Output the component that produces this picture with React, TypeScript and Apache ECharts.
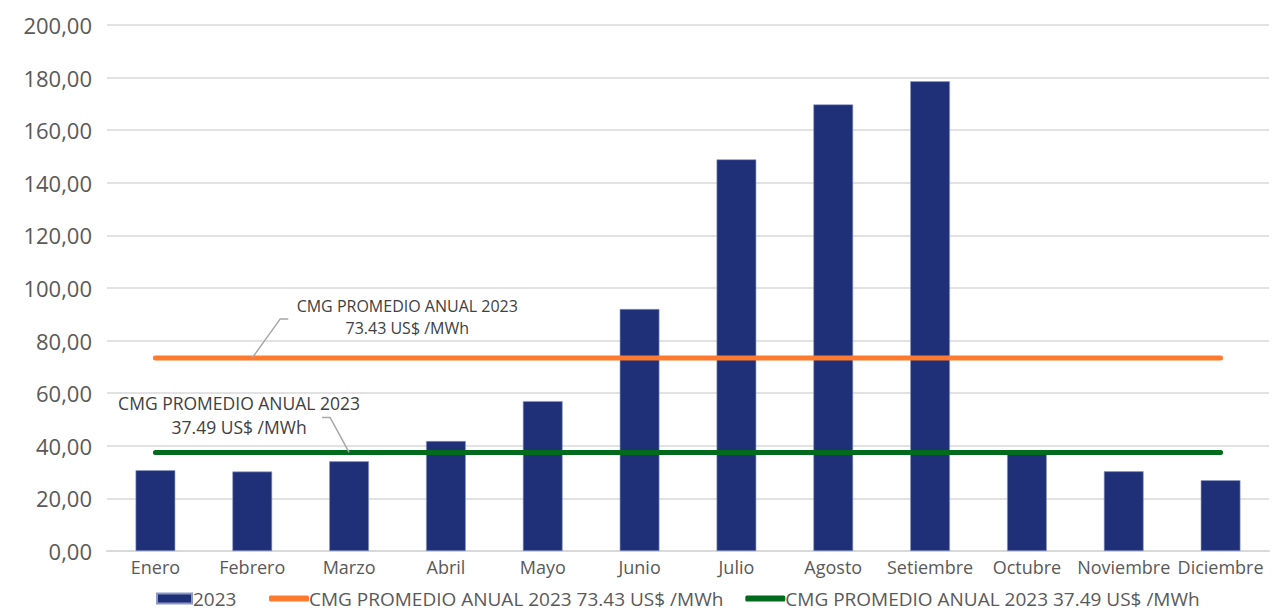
import React, { useEffect, useRef } from "react";
import * as echarts from "echarts";

const categories = ["Enero", "Febrero", "Marzo", "Abril", "Mayo", "Junio", "Julio", "Agosto", "Setiembre", "Octubre", "Noviembre", "Diciembre"];
const values2023 = [30.7, 30.2, 34.1, 41.8, 57.0, 92.0, 148.9, 169.8, 178.6, 37.8, 30.3, 26.9];
const avgHigh = 73.43;
const avgLow = 37.49;
const nameBar = "2023";
const nameHigh = "CMG PROMEDIO ANUAL 2023 73.43 US$ /MWh";
const nameLow = "CMG PROMEDIO ANUAL 2023 37.49 US$ /MWh";
const annotHigh = "CMG PROMEDIO ANUAL 2023\n73.43 US$ /MWh";
const annotLow = "CMG PROMEDIO ANUAL 2023\n37.49 US$ /MWh";

const FONT = "'Open Sans', 'Noto Sans', sans-serif";
const TXT = "#595959";
const NAVY = "#1F3079";
const ORANGE = "#FF7A2C";
const GREEN = "#006B1D";

export default function App() {
  const ref = useRef<HTMLDivElement>(null);
  useEffect(() => {
    if (!ref.current) return;
    const chart = echarts.init(ref.current, null, { renderer: "svg" });
    chart.setOption({
      animation: false,
      backgroundColor: "#ffffff",
      textStyle: { fontFamily: FONT },
      grid: { left: 107, right: 9, top: 25, bottom: 61, containLabel: false },
      legend: [
        {
          data: [{ name: nameBar, icon: "rect" }],
          left: 151,
          top: 584,
          itemWidth: 35,
          itemHeight: 10,
          itemGap: 4,
          textStyle: { color: TXT, fontSize: 19, fontFamily: FONT, padding: [0, 0, 0, -4] },
        },
        {
          data: [
            { name: nameHigh, icon: "roundRect" },
            { name: nameLow, icon: "roundRect" },
          ],
          left: 264,
          top: 584,
          itemWidth: 40,
          itemHeight: 6,
          itemGap: 22,
          textStyle: { color: TXT, fontSize: 19, fontFamily: FONT, padding: [0, 0, 0, -5] },
        },
      ],
      xAxis: {
        type: "category",
        data: categories,
        axisTick: { show: false },
        axisLine: { lineStyle: { color: "#D9D9D9", width: 2 } },
        axisLabel: { color: TXT, fontSize: 18, fontFamily: FONT, margin: 7, interval: 0, hideOverlap: false },
      },
      yAxis: {
        type: "value",
        min: 0,
        max: 200,
        interval: 20,
        axisLine: { show: false },
        axisTick: { show: false },
        splitLine: { lineStyle: { color: "#D9D9D9", width: 1.5 } },
        axisLabel: {
          color: TXT,
          fontSize: 22,
          fontFamily: FONT,
          margin: 15,
          formatter: (v: number) => v.toFixed(2).replace(".", ","),
        },
      },
      series: [
        {
          name: nameBar,
          type: "bar",
          data: values2023,
          barWidth: "41%",
          itemStyle: { color: NAVY, borderColor: "#8C98C6", borderWidth: 0.6 },
          z: 2,
        },
        {
          name: nameHigh,
          type: "line",
          data: categories.map(() => avgHigh),
          symbol: "none",
          itemStyle: { color: ORANGE },
          lineStyle: { color: ORANGE, width: 5, cap: "round" },
          z: 3,
        },
        {
          name: nameLow,
          type: "line",
          data: categories.map(() => avgLow),
          symbol: "none",
          itemStyle: { color: GREEN },
          lineStyle: { color: GREEN, width: 5, cap: "round" },
          z: 3,
        },
      ],
    });

    const pHigh = chart.convertToPixel({ xAxisIndex: 0, yAxisIndex: 0 }, [1, avgHigh]) as number[];
    const pLow = chart.convertToPixel({ xAxisIndex: 0, yAxisIndex: 0 }, [2, avgLow]) as number[];
    const lead = { stroke: "#A6A6A6", lineWidth: 1.5, fill: "none" };
    chart.setOption({
      graphic: [
        {
          type: "polyline",
          z: 10,
          shape: { points: [[pHigh[0], pHigh[1]], [pHigh[0] + 28, pHigh[1] - 39], [pHigh[0] + 36, pHigh[1] - 39]] },
          style: lead,
        },
        {
          type: "text",
          x: pHigh[0] + 155,
          y: pHigh[1] - 41,
          z: 10,
          style: {
            text: annotHigh,
            fill: "#404040",
            font: `16px ${FONT}`,
            lineHeight: 22,
            textAlign: "center",
            textVerticalAlign: "middle",
          },
        },
        {
          type: "polyline",
          z: 10,
          shape: { points: [[pLow[0], pLow[1]], [pLow[0] - 19, pLow[1] - 35], [pLow[0] - 27, pLow[1] - 35]] },
          style: lead,
        },
        {
          type: "text",
          x: pLow[0] - 110,
          y: pLow[1] - 37,
          z: 10,
          style: {
            text: annotLow,
            fill: "#404040",
            font: `17.5px ${FONT}`,
            lineHeight: 24,
            textAlign: "center",
            textVerticalAlign: "middle",
          },
        },
      ],
    });
    return () => chart.dispose();
  }, []);
  return <div ref={ref} style={{ position: "fixed", left: 0, top: 0, width: 1278, height: 612 }} />;
}
